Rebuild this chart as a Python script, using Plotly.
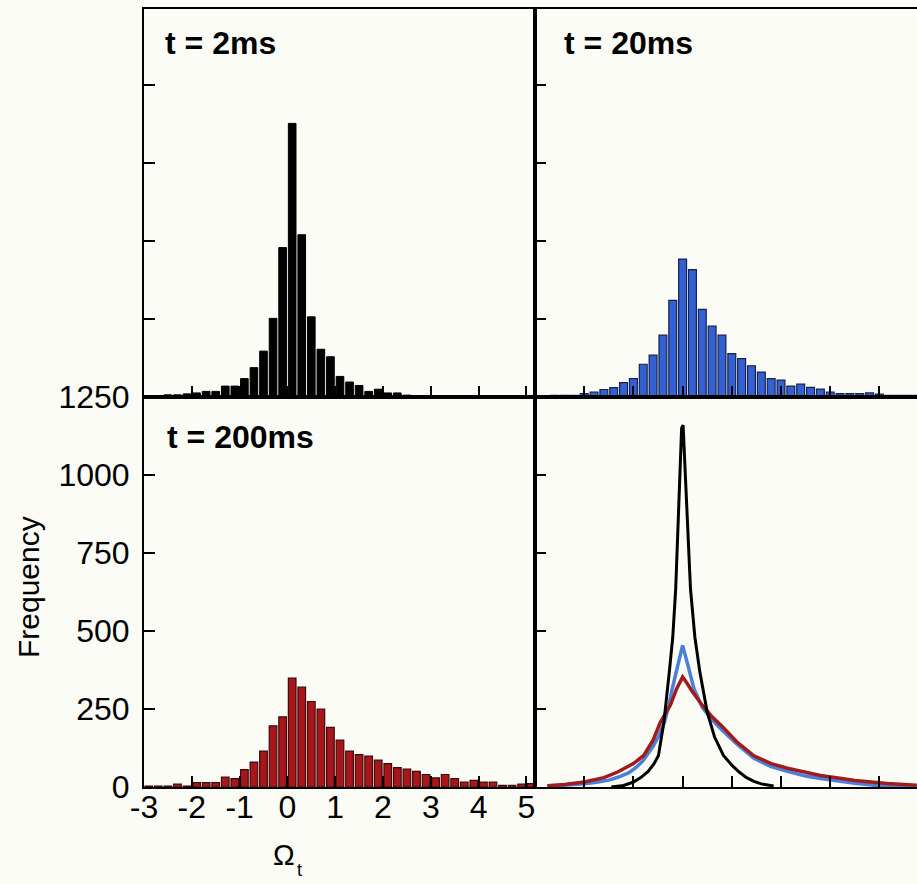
import plotly.graph_objects as go

# ---------------- data ----------------
# t = 2 ms histogram: bin centres and counts
tl_omega = [round(-2.5 + 0.2 * k, 2) for k in range(26)]
tl_freq = [7, 7, 10, 13, 18, 18, 35, 35, 59, 94, 147, 252, 479, 877, 520, 257,
           153, 129, 66, 48, 37, 18, 25, 13, 13, 6]

# t = 20 ms histogram
tr_omega = [round(0.2 * k, 2) for k in range(-13, 25)]
tr_freq = [5, 5, 5, 11, 16, 24, 30, 46, 59, 105, 134, 198, 310, 442, 408, 281,
           227, 198, 139, 123, 100, 80, 59, 54, 35, 41, 31, 25, 16, 11, 11, 11,
           13, 9, 5, 5, 5, 5]

# t = 200 ms histogram
bl_omega = [round(-2.5 + 0.2 * k, 2) for k in range(-2, 39)]
bl_freq = [3, 3, 3, 9, 3, 14, 14, 14, 32, 27, 56, 80, 115, 196, 225, 349, 320,
           274, 250, 191, 150, 115, 104, 99, 86, 75, 62, 57, 50, 40, 29, 40, 27,
           16, 21, 16, 16, 5, 5, 9, 11]

# overlay curves (fine-binned distributions)
k_x = [-1.45, -1.2, -1.0, -0.85, -0.7, -0.58, -0.49, -0.38, -0.27, -0.2, -0.14,
       -0.07, -0.02, 0.01, 0.04, 0.07, 0.12, 0.16, 0.25, 0.35, 0.5, 0.65, 0.83,
       1.0, 1.15, 1.3, 1.45, 1.6, 1.85]
k_y = [0, 5, 16, 30, 50, 75, 101, 208, 369, 480, 636, 956, 1150, 1160, 1060,
       956, 760, 636, 480, 369, 240, 160, 101, 70, 48, 30, 18, 10, 3]

b_x = [-2.75, -2.4, -2.0, -1.75, -1.5, -1.3, -1.1, -0.95, -0.8, -0.6, -0.48,
       -0.37, -0.28, -0.21, -0.1, 0.0, 0.1, 0.23, 0.4, 0.6, 0.8, 1.1, 1.45, 1.8,
       2.13, 2.5, 2.8, 3.2, 3.5, 3.9, 4.3, 4.76]
b_y = [2, 5, 10, 15, 22, 32, 45, 62, 85, 130, 165, 208, 260, 315, 390, 454, 395,
       315, 255, 215, 183, 138, 92, 65, 50, 35, 27, 18, 12, 6, 3, 2]

r_x = [-2.75, -2.4, -2.0, -1.6, -1.32, -1.0, -0.79, -0.6, -0.45, -0.35, -0.25,
       -0.12, 0.0, 0.1, 0.2, 0.4, 0.6, 0.8, 1.1, 1.45, 1.8, 2.13, 2.5, 2.8, 3.2,
       3.5, 4.16, 4.76]
r_y = [4, 8, 16, 30, 48, 75, 101, 150, 208, 236, 262, 315, 353, 330, 305, 262,
       225, 195, 145, 100, 75, 60, 46, 37, 28, 21, 11, 6]

panel_titles = ["t = 2ms", "t = 20ms", "t = 200ms"]
y_ticks = [0, 250, 500, 750, 1000, 1250]
x_ticks = [-3, -2, -1, 0, 1, 2, 3, 4, 5]
x_tick_text = ["-3", "-2", "-1", "0", "1", "2", "3", "4", "5"]

# ---------------- figure ----------------
W, H = 917, 884
BG = "#FCFCF6"
FONT = "Liberation Sans, Arial, sans-serif"


def px(v):
    return v / W


def py(v):
    return 1 - v / H


fig = go.Figure()

fig.add_trace(go.Bar(x=tl_omega, y=tl_freq, xaxis="x", yaxis="y",
                     marker=dict(color="#000000", line=dict(color="#000000", width=1))))
fig.add_trace(go.Bar(x=tr_omega, y=tr_freq, xaxis="x2", yaxis="y2",
                     marker=dict(color="#3461D2", line=dict(color="#16214F", width=1.2))))
fig.add_trace(go.Bar(x=bl_omega, y=bl_freq, xaxis="x3", yaxis="y3",
                     marker=dict(color="#A8161A", line=dict(color="#3C0A0A", width=1.2))))
fig.add_trace(go.Scatter(x=b_x, y=b_y, xaxis="x4", yaxis="y4", mode="lines",
                         line=dict(color="#4A7FDB", width=3.5)))
fig.add_trace(go.Scatter(x=r_x, y=r_y, xaxis="x4", yaxis="y4", mode="lines",
                         line=dict(color="#A01C1C", width=3.5)))
fig.add_trace(go.Scatter(x=k_x, y=k_y, xaxis="x4", yaxis="y4", mode="lines",
                         line=dict(color="#000000", width=3)))

L0, L1, R1 = 144, 535, 917
T0, MID, B0 = 9, 397, 787
left_range = [-3, -3 + (L1 - L0) / 47.8]
right_range = [-3, -3 + (R1 - L1) / 49.2]
bottom_range = [0, 1250]
top_range = [0, 1250 * (MID - T0) / (B0 - MID)]

common = dict(showgrid=False, zeroline=False, showline=True, linecolor="black",
              linewidth=2, ticks="inside", ticklen=11, tickwidth=2,
              tickcolor="black", automargin=False,
              tickfont=dict(family=FONT, size=32, color="black"))

xdom_l = [px(L0), px(L1)]
xdom_r = [px(L1), 1.0]
ydom_t = [py(MID), py(T0)]
ydom_b = [py(B0), py(MID)]

fig.update_layout(
    width=W, height=H,
    margin=dict(l=0, r=0, t=0, b=0, pad=0),
    paper_bgcolor=BG, plot_bgcolor=BG,
    showlegend=False, bargap=0.2,
    xaxis=dict(common, domain=xdom_l, anchor="y", range=left_range,
               tickvals=x_ticks, showticklabels=False, mirror=True),
    yaxis=dict(common, domain=ydom_t, anchor="x", range=top_range,
               tickvals=y_ticks, showticklabels=False, mirror=True),
    xaxis2=dict(common, domain=xdom_r, anchor="y2", range=right_range,
                tickvals=x_ticks, showticklabels=False, mirror=True),
    yaxis2=dict(common, domain=ydom_t, anchor="x2", range=top_range,
                tickvals=y_ticks, showticklabels=False, mirror=False),
    xaxis3=dict(common, domain=xdom_l, anchor="y3", range=left_range,
                tickvals=x_ticks, ticktext=x_tick_text, showticklabels=True,
                mirror=True, ticklabelstandoff=-9),
    yaxis3=dict(common, domain=ydom_b, anchor="x3", range=bottom_range,
                tickvals=y_ticks, showticklabels=True, mirror=True,
                ticklabelstandoff=6),
    xaxis4=dict(common, domain=xdom_r, anchor="y4", range=right_range,
                tickvals=x_ticks, showticklabels=False, mirror=True),
    yaxis4=dict(common, domain=ydom_b, anchor="x4", range=bottom_range,
                tickvals=y_ticks, showticklabels=False, mirror=False),
)

title_pos = [(163, 43), (562, 43), (165, 437)]
for txt, (x0, y0) in zip(panel_titles, title_pos):
    fig.add_annotation(text="<b>" + txt + "</b>", x=px(x0), y=py(y0),
                       xref="paper", yref="paper", xanchor="left", yanchor="middle",
                       showarrow=False, font=dict(family=FONT, size=32, color="black"))

fig.add_annotation(text="Frequency", x=px(28), y=py(587), xref="paper", yref="paper",
                   textangle=-90, showarrow=False, xanchor="center", yanchor="middle",
                   font=dict(family=FONT, size=30, color="black"))
fig.add_annotation(text="Ω", x=px(284), y=py(855), xref="paper", yref="paper",
                   xanchor="center", yanchor="middle", showarrow=False,
                   font=dict(family=FONT, size=29, color="black"))
fig.add_annotation(text="t", x=px(299), y=py(870), xref="paper", yref="paper",
                   xanchor="center", yanchor="middle", showarrow=False,
                   font=dict(family=FONT, size=18, color="black"))

fig.write_html("out.html")
